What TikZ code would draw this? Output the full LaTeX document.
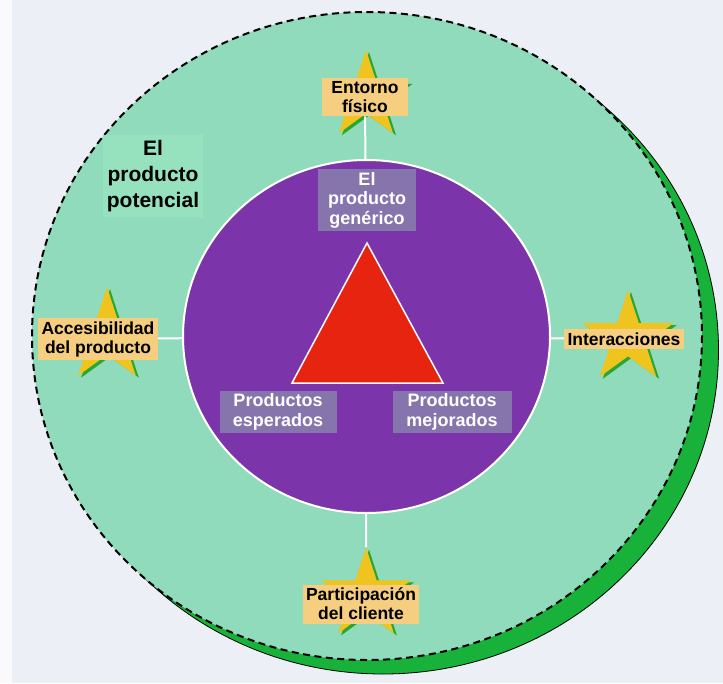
\documentclass[tikz,border=0pt]{standalone}
\usepackage{fontspec}
\setmainfont{Liberation Sans}
\usetikzlibrary{shapes.geometric,shadows}

\definecolor{pagebg}{RGB}{237,239,247}
\definecolor{mint}{RGB}{143,219,187}
\definecolor{mintlight}{RGB}{150,226,190}
\definecolor{shadowgreen}{RGB}{24,178,58}
\definecolor{corepurple}{RGB}{124,52,170}
\definecolor{labelpurple}{RGB}{134,116,172}
\definecolor{tagorange}{RGB}{246,206,128}
\definecolor{staryellow}{RGB}{240,196,30}
\definecolor{stargreen}{RGB}{40,168,50}
\definecolor{corered}{RGB}{230,36,16}

\begin{document}
\begin{tikzpicture}[x=1pt,y=-1pt,
    tag/.style={fill=tagorange, align=center, inner xsep=3.5pt, inner ysep=3.5pt,
        font=\fontsize{17.5}{19}\selectfont\bfseries},
    corelabel/.style={fill=labelpurple, text=white, align=center, inner xsep=10pt, inner ysep=3pt,
        font=\fontsize{18}{19.5}\selectfont\bfseries},
    spark/.style={star, star points=5, star point ratio=2.618, inner sep=0pt, fill=staryellow,
        drop shadow={shadow xshift=3pt, shadow yshift=-2pt, fill=stargreen, opacity=1}},
    link/.style={draw=white, line width=2pt}]

    % Page and bounding box
    \useasboundingbox (0,0) rectangle (723,683);
    \fill[pagebg] (0,0) rectangle (723,683);
    \fill[white!70!pagebg] (0,0) rectangle (12,683);

    % Outer ring: the potential product
    \filldraw[fill=shadowgreen, draw=black, line width=0.8pt] (383,350) ellipse [x radius=335.5, y radius=324];
    \filldraw[fill=mint, draw=black, line width=2pt, dash pattern=on 7pt off 4.5pt] (367,336) ellipse [x radius=335, y radius=324];
    \node[fill=mintlight, align=center, inner xsep=4pt, inner ysep=5pt,
        font=\fontsize{21}{26}\selectfont\bfseries] (potencial) at (153,176) {El\\producto\\potencial};

    % Inner disc
    \node[ellipse, fill=corepurple, draw=white, line width=2pt, inner sep=0pt,
        minimum width=367pt, minimum height=353pt] (core) at (366.5,336.5) {};

    % Triangle vertices
    \coordinate (A) at (367,243);
    \coordinate (B) at (292,383);
    \coordinate (C) at (443,383);
    \filldraw[fill=corered, draw=white, line width=1.5pt] (A) -- (B) -- (C) -- cycle;

    % Labels of the inner disc
    \node[corelabel] (generico) at (367,200) {El\\producto\\genérico};
    \node[corelabel, minimum width=117pt] (esperados) at (278,412) {Productos\\esperados};
    \node[corelabel, minimum width=119pt] (mejorados) at (452,412) {Productos\\mejorados};

    % Stars
    \node[spark, minimum size=92pt] (fisicostar) at (366,96) {};
    \node[spark, minimum size=98pt] (accesstar) at (107,336) {};
    \node[spark, minimum size=96pt] (interstar) at (628,338) {};
    \node[spark, minimum size=95pt] (clientestar) at (366,595) {};

    % Tags on the stars
    \node[tag, minimum width=86pt] (fisico) at (365,97) {Entorno\\físico};
    \node[tag] (acceso) at (98,339) {Accesibilidad\\del producto};
    \node[tag] (interacciones) at (624,339) {Interacciones};
    \node[tag] (cliente) at (361,604) {Participación\\del cliente};

    % Connectors
    \draw[link] (fisico) -- (core);
    \draw[link] (acceso) -- (core);
    \draw[link] (interacciones) -- (core);
    \draw[link] (core) -- (clientestar);

\end{tikzpicture}
\end{document}
